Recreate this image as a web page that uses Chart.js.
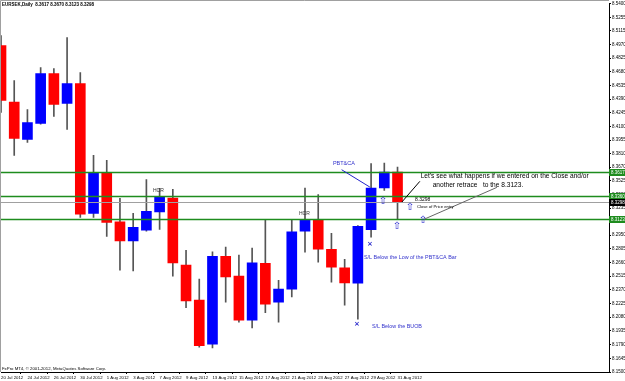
<!DOCTYPE html>
<html>
<head>
<meta charset="utf-8">
<script src="https://cdn.jsdelivr.net/npm/chart.js@4.4.0/dist/chart.umd.min.js"></script>
<style>
  html, body { margin: 0; padding: 0; background: #fff; }
  canvas { display: block; }
</style>
</head>
<body>
<canvas id="chartEurSek" width="625" height="381"></canvas>
<script>
// EURSEK diario, 20 Jul - 31 Aug 2012
const datas = ['20 Jul 2012', '23 Jul 2012', '24 Jul 2012', '25 Jul 2012', '26 Jul 2012', '27 Jul 2012',
  '30 Jul 2012', '31 Jul 2012', '1 Aug 2012', '2 Aug 2012', '3 Aug 2012', '6 Aug 2012', '7 Aug 2012',
  '8 Aug 2012', '9 Aug 2012', '10 Aug 2012', '13 Aug 2012', '14 Aug 2012', '15 Aug 2012', '16 Aug 2012',
  '17 Aug 2012', '20 Aug 2012', '21 Aug 2012', '22 Aug 2012', '23 Aug 2012', '24 Aug 2012', '27 Aug 2012',
  '28 Aug 2012', '29 Aug 2012', '30 Aug 2012', '31 Aug 2012'];

const aberturas = [8.4956, 8.4357, 8.3963, 8.4132, 8.4660, 8.4343, 8.4554, 8.3180, 8.3603, 8.3089, 8.2888,
  8.3001, 8.3194, 8.3342, 8.2631, 8.2261, 8.1796, 8.2726, 8.2515, 8.2050, 8.2652, 8.2240, 8.2377, 8.2990,
  8.3107, 8.2800, 8.2602, 8.2441, 8.3008, 8.3448, 8.3617];
const maximas = [8.5062, 8.4586, 8.4280, 8.4724, 8.4713, 8.5041, 8.4671, 8.3794, 8.3741, 8.3339, 8.3181,
  8.3537, 8.3445, 8.3434, 8.2789, 8.2483, 8.2772, 8.2824, 8.2737, 8.2811, 8.3107, 8.2472, 8.3117, 8.3448,
  8.3378, 8.2969, 8.2694, 8.3050, 8.3706, 8.3712, 8.3670];
const minimas = [8.4248, 8.3794, 8.3931, 8.4125, 8.4206, 8.4068, 8.3138, 8.3138, 8.2937, 8.2578, 8.2571,
  8.2990, 8.3011, 8.2515, 8.2180, 8.1764, 8.1754, 8.2240, 8.2028, 8.1968, 8.2127, 8.2028, 8.2296, 8.2768,
  8.2663, 8.2451, 8.2208, 8.2060, 8.2927, 8.3424, 8.3123];
const fechamentos = [8.4375, 8.3973, 8.4142, 8.4660, 8.4333, 8.4554, 8.3170, 8.3614, 8.3085, 8.2888, 8.3033,
  8.3202, 8.3353, 8.2655, 8.2254, 8.1780, 8.2726, 8.2507, 8.2050, 8.2655, 8.2219, 8.2377, 8.2983, 8.3114,
  8.2800, 8.2610, 8.2444, 8.3043, 8.3448, 8.3617, 8.3298];

// rotulos do eixo de precos
const ticksPreco = ['8.5400', '8.5255', '8.5115', '8.4970', '8.4825', '8.4680', '8.4535', '8.4390', '8.4245',
  '8.4100', '8.3955', '8.3810', '8.3670', '8.3525', '8.3380', '8.3235', '8.3090', '8.2950', '8.2805', '8.2660',
  '8.2515', '8.2370', '8.2225', '8.2080', '8.1935', '8.1790', '8.1645', '8.1500'];

// linhas horizontais
const linhasVerdes = [8.3617, 8.3360, 8.3123];
const linhaBid = 8.3298;

const TOTAL_SLOTS = 47;
const slots = Array.from({ length: TOTAL_SLOTS }, (_, i) => datas[i] || '');

const AZUL = '#0000ff';
const VERMELHO = '#ff0000';
const coresCorpo = aberturas.map((o, i) => fechamentos[i] >= o ? AZUL : VERMELHO);

// anotacoes desenhadas em coordenadas (indice da barra, preco)
const textos = [
  { i: 25.11, v: 8.3709, txt: 'PBT&CA', cor: '#3333cc', tam: 5.5 },
  { i: 11.50, v: 8.3424, txt: 'HCR', cor: '#333', tam: 5 },
  { i: 22.54, v: 8.3180, txt: 'HCR', cor: '#333', tam: 5 },
  { i: 31.75, v: 8.3572, txt: "Let's see what happens if we entered on the Close and/or", cor: '#000', tam: 6.6 },
  { i: 32.66, v: 8.3482, txt: 'another retrace   to the 8.3123.', cor: '#000', tam: 6.6 },
  { i: 31.32, v: 8.3328, txt: '8.3298', cor: '#000', tam: 5 },
  { i: 31.47, v: 8.3244, txt: 'Close of Price entry', cor: '#000', tam: 4.2 },
  { i: 27.46, v: 8.2715, txt: 'S/L Below the Low of the PBT&CA Bar', cor: '#3333cc', tam: 5.4 },
  { i: 28.06, v: 8.1983, txt: 'S/L Below the BUOB', cor: '#3333cc', tam: 5.4 }
];
const segmentos = [
  { i1: 25.77, v1: 8.3642, i2: 27.91, v2: 8.3458, cor: '#2222cc' },
  { i1: 30.33, v1: 8.3300, i2: 31.69, v2: 8.3519, cor: '#000' },
  { i1: 32.00, v1: 8.3117, i2: 37.52, v2: 8.3455, cor: '#666' }
];
const setas = [
  { i: 28.90, v: 8.3307 }, { i: 30.94, v: 8.3244 }, { i: 29.95, v: 8.3043 }, { i: 31.92, v: 8.3107 }
];
const cruzes = [
  { i: 27.91, v: 8.2853 }, { i: 26.93, v: 8.2007 }
];

const FONTE = '"Liberation Sans", Arial, sans-serif';

const pluginMT4 = {
  id: 'mt4',
  beforeDraw(chart) {
    const c = chart.ctx;
    c.save();
    c.fillStyle = '#fff';
    c.fillRect(0, 0, chart.width, chart.height);
    c.restore();
  },
  afterDatasetsDraw(chart) {
    const c = chart.ctx;
    const xs = chart.scales.x, ys = chart.scales.y;
    const area = chart.chartArea;
    c.save();
    // linhas horizontais
    c.lineWidth = 1;
    c.strokeStyle = '#a0a0a0';
    let yb = Math.round(ys.getPixelForValue(linhaBid)) + 0.5;
    c.beginPath(); c.moveTo(0, yb); c.lineTo(area.right, yb); c.stroke();
    c.strokeStyle = '#1e8c1e';
    c.lineWidth = 1.3;
    linhasVerdes.forEach(v => {
      const y = Math.round(ys.getPixelForValue(v)) + 0.5;
      c.beginPath(); c.moveTo(0, y); c.lineTo(area.right, y); c.stroke();
    });

    // segmentos
    c.lineWidth = 1;
    segmentos.forEach(s => {
      c.strokeStyle = s.cor;
      c.beginPath();
      c.moveTo(xs.getPixelForValue(s.i1), ys.getPixelForValue(s.v1));
      c.lineTo(xs.getPixelForValue(s.i2), ys.getPixelForValue(s.v2));
      c.stroke();
    });

    // textos
    c.textBaseline = 'middle';
    c.textAlign = 'left';
    textos.forEach(t => {
      c.font = t.tam + 'px ' + FONTE;
      c.fillStyle = t.cor;
      c.fillText(t.txt, xs.getPixelForValue(t.i), ys.getPixelForValue(t.v));
    });

    // setas e cruzes
    c.textAlign = 'center';
    c.fillStyle = '#2a2acc';
    c.font = '10px "DejaVu Sans", sans-serif';
    setas.forEach(s => c.fillText('⇧', xs.getPixelForValue(s.i), ys.getPixelForValue(s.v)));
    c.font = 'bold 7px "DejaVu Sans", sans-serif';
    cruzes.forEach(s => c.fillText('×', xs.getPixelForValue(s.i), ys.getPixelForValue(s.v)));
    c.restore();
  },
  afterDraw(chart) {
    const c = chart.ctx;
    const ys = chart.scales.y;
    const area = chart.chartArea;
    c.save();
    // moldura cinza topo/esquerda
    c.strokeStyle = '#a0a0a0';
    c.lineWidth = 1;
    c.beginPath();
    c.moveTo(0.5, area.bottom); c.lineTo(0.5, 0.5); c.lineTo(area.right, 0.5);
    c.stroke();

    // etiquetas de preco no eixo
    c.font = '4.5px ' + FONTE;
    c.textBaseline = 'middle';
    c.textAlign = 'left';
    const etiqueta = (v, fundo, txt) => {
      const y = Math.round(ys.getPixelForValue(v)) + 0.5;
      c.fillStyle = fundo;
      c.fillRect(area.right, y - 3.5, chart.width - area.right, 7);
      c.fillStyle = '#fff';
      c.fillText(txt, area.right + 2, y);
    };
    linhasVerdes.forEach(v => etiqueta(v, '#1e8c1e', v.toFixed(4)));
    etiqueta(linhaBid, '#000', linhaBid.toFixed(4));

    // titulo e copyright
    c.fillStyle = '#000';
    c.font = 'bold 4.5px ' + FONTE;
    c.fillText('EURSEK,Daily  8.3617 8.3670 8.3123 8.3298', 2, 5);
    c.font = '4.3px ' + FONTE;
    c.fillText('FxPro MT4, © 2001-2012, MetaQuotes Software Corp.', 2, 369);
    c.restore();
  }
};

new Chart(document.getElementById('chartEurSek'), {
  type: 'bar',
  data: {
    labels: slots,
    datasets: [
      {
        label: 'corpo',
        data: aberturas.map((o, i) => [o, fechamentos[i]]),
        backgroundColor: coresCorpo,
        borderColor: coresCorpo,
        borderWidth: 0,
        borderSkipped: false,
        barThickness: 10,
        grouped: false,
        order: 0
      },
      {
        label: 'pavio',
        data: minimas.map((l, i) => [l, maximas[i]]),
        backgroundColor: '#555',
        borderWidth: 0,
        barThickness: 1,
        grouped: false,
        order: 1
      }
    ]
  },
  options: {
    responsive: false,
    animation: false,
    layout: { padding: { top: 3, left: 1, right: 0, bottom: 0 } },
    plugins: {
      legend: { display: false },
      tooltip: { enabled: false }
    },
    scales: {
      x: {
        type: 'category',
        offset: false,
        border: { color: '#000', width: 1 },
        grid: {
          drawOnChartArea: false,
          tickLength: 2,
          tickColor: ctx => (ctx.index % 2 === 0 && ctx.index < datas.length) ? '#000' : 'rgba(0,0,0,0)'
        },
        ticks: {
          autoSkip: false,
          maxRotation: 0,
          minRotation: 0,
          align: 'start',
          padding: 1,
          color: '#000',
          font: { family: FONTE, size: 4.3 },
          callback: (val, idx) => (idx % 2 === 0 && idx < datas.length) ? datas[idx] : ''
        },
        afterFit: scale => { scale.height = 9; }
      },
      y: {
        position: 'right',
        min: 8.15,
        max: 8.54,
        border: { color: '#000', width: 1 },
        grid: { drawOnChartArea: false, tickLength: 2, tickColor: '#000' },
        afterBuildTicks: scale => {
          scale.ticks = ticksPreco.map(t => ({ value: parseFloat(t) }));
        },
        ticks: {
          autoSkip: false,
          padding: 1,
          color: '#000',
          font: { family: FONTE, size: 4.5 },
          callback: (val, idx) => ticksPreco[idx]
        },
        afterFit: scale => { scale.width = 16; }
      }
    }
  },
  plugins: [pluginMT4]
});
</script>
</body>
</html>
